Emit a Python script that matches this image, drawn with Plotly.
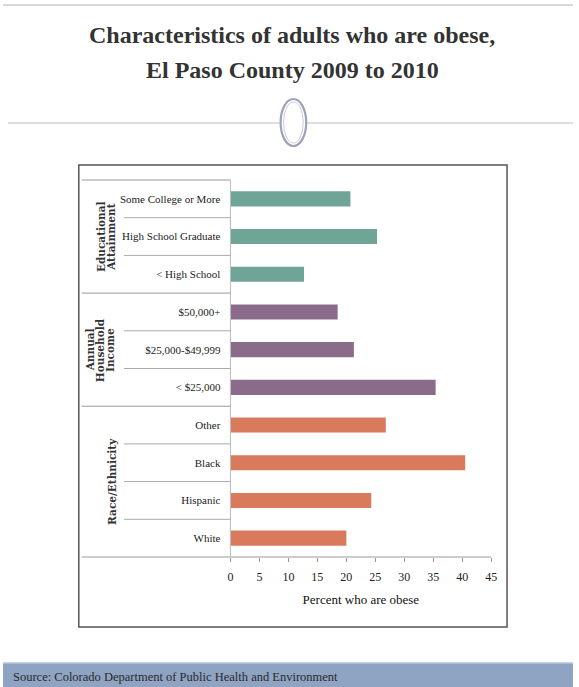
import plotly.graph_objects as go

# ---- data ----
categories = ["Some College or More", "High School Graduate", "< High School",
              "$50,000+", "$25,000-$49,999", "< $25,000",
              "Other", "Black", "Hispanic", "White"]
values = [20.7, 25.3, 12.7, 18.5, 21.3, 35.4, 26.8, 40.5, 24.3, 20.0]
groups = ["Educational Attainment"] * 3 + ["Annual Household Income"] * 3 + ["Race/Ethnicity"] * 4
group_names = ["Educational Attainment", "Annual Household Income", "Race/Ethnicity"]
group_label_lines = [["Educational", "Attainment"], ["Annual", "Household", "Income"], ["Race/Ethnicity"]]
x_ticks = [0, 5, 10, 15, 20, 25, 30, 35, 40, 45]
title_lines = ["Characteristics of adults who are obese,", "El Paso County 2009 to 2010"]
source_text = "Source: Colorado Department of Public Health and Environment"

group_colors = {"Educational Attainment": "#6fa596",
                "Annual Household Income": "#8a6c8a",
                "Race/Ethnicity": "#d97a5d"}

W, H = 579, 687
def px(x):
    return x / W
def py(y):
    return 1 - y / H

# plot area in pixels
X0, X1 = 231, 496
Y0, Y1 = 180, 557

SERIF = "Liberation Serif"

fig = go.Figure()
fig.add_trace(go.Bar(
    x=values, y=categories, orientation="h",
    marker=dict(color=[group_colors[g] for g in groups], line=dict(width=0)),
    width=0.4, hoverinfo="x+y",
))

fig.update_layout(
    width=W, height=H,
    margin=dict(l=0, r=0, t=0, b=0),
    paper_bgcolor="white", plot_bgcolor="white",
    showlegend=False,
    xaxis=dict(domain=[px(X0), px(X1)], range=[0, 45], tickvals=x_ticks,
               showgrid=False, zeroline=False, showline=False,
               ticks="outside", ticklen=4, tickcolor="#999999",
               ticklabelstandoff=5,
               tickfont=dict(family=SERIF, size=12, color="#222222"),
               title=dict(text="Percent who are obese",
                          font=dict(family=SERIF, size=13, color="#111111"),
                          standoff=11),
               fixedrange=True),
    yaxis=dict(domain=[py(Y1), py(Y0)], autorange="reversed",
               categoryorder="array", categoryarray=categories,
               showgrid=False, zeroline=False, showline=False,
               ticks="", ticklabelstandoff=9,
               tickfont=dict(family=SERIF, size=11, color="#222222"),
               fixedrange=True),
)

shapes = []
def line(x0, y0, x1, y1, color="#aaaaaa", width=1):
    shapes.append(dict(type="line", xref="paper", yref="paper",
                       x0=px(x0), y0=py(y0), x1=px(x1), y1=py(y1),
                       line=dict(color=color, width=width)))

# top rule
line(0, 5, W, 5, "#c8c8c8", 1.5)
# ornament rule
line(5, 123, 281, 123, "#bdbdbd", 1.2)
line(309, 123, W, 123, "#bdbdbd", 1.2)
# ornament double ellipse
shapes.append(dict(type="circle", xref="paper", yref="paper",
                   x0=px(282), x1=px(308), y0=py(146), y1=py(99),
                   line=dict(color="#9ea2b8", width=2.2)))
shapes.append(dict(type="circle", xref="paper", yref="paper",
                   x0=px(285), x1=px(305), y0=py(143), y1=py(102),
                   line=dict(color="#c9cbd8", width=1)))

# frame
shapes.append(dict(type="rect", xref="paper", yref="paper",
                   x0=px(77), x1=px(512), y0=py(627), y1=py(165),
                   line=dict(color="#555555", width=1.5)))

# table lines
step = (Y1 - Y0) / len(categories)
line(80, Y0, X0, Y0, "#999999", 1)
line(80, Y1, X1, Y1, "#999999", 1.2)
line(X0, Y0, X0, Y1, "#bbbbbb", 1)
for i in range(1, len(categories)):
    yy = Y0 + i * step
    if groups[i] != groups[i - 1]:
        line(80, yy, X0, yy, "#999999", 1)
    else:
        line(123, yy, X0, yy, "#aaaaaa", 1)

# source band
shapes.append(dict(type="rect", xref="paper", yref="paper",
                   x0=0, x1=1, y0=0, y1=py(663),
                   line=dict(width=0), fillcolor="#8fa3c3", layer="below"))
line(0, 663, W, 663, "#b7c4da", 1.5)

fig.update_layout(shapes=shapes)

ann = []
# title
for txt, ty in zip(title_lines, [35, 70]):
    ann.append(dict(text="<b>" + txt + "</b>",
                    x=px(294), y=py(ty), xref="paper", yref="paper", showarrow=False,
                    font=dict(family=SERIF, size=24, color="#333333"),
                    xanchor="center", yanchor="middle"))
# group labels, one annotation per line for tight spacing
group_line_x = [[99, 109], [88, 98, 108], [110]]
for gname, glines, gxs in zip(group_names, group_label_lines, group_line_x):
    idx = [i for i, g in enumerate(groups) if g == gname]
    yc = Y0 + (idx[0] + idx[-1] + 1) / 2 * step
    for t, gx in zip(glines, gxs):
        ann.append(dict(text="<b>" + t + "</b>", x=px(gx), y=py(yc),
                        xref="paper", yref="paper", showarrow=False, textangle=-90,
                        font=dict(family="DejaVu Serif", size=10.5, color="#333333"),
                        xanchor="center", yanchor="middle"))
# source
ann.append(dict(text=source_text,
                x=px(8), y=py(677), xref="paper", yref="paper", showarrow=False,
                font=dict(family=SERIF, size=12.5, color="#2a2a2a"),
                xanchor="left", yanchor="middle"))
fig.update_layout(annotations=ann)

fig.write_html("out.html",
               config={"displayModeBar": False},
               post_script="document.body.style.margin='0';document.body.style.padding='0';"
                           "document.body.style.overflow='hidden';"
                           "document.documentElement.style.overflow='hidden';")
